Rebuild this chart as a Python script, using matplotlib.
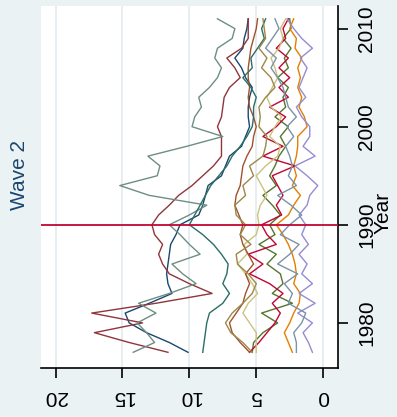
import matplotlib.pyplot as plt

plt.rcParams['font.family'] = ['Liberation Sans', 'DejaVu Sans']

years = list(range(1977, 2012))

navy = [10.1, 11.5, 13.2, 14.5, 14.8, 13.0, 11.3, 11.6, 11.7, 11.6, 11.5, 11.4,
        11.0, 10.7, 9.3, 9.0, 8.8, 8.6, 7.6, 7.3, 7.0, 6.1, 5.8, 5.5, 5.6, 5.6,
        5.5, 5.3, 5.8, 6.1, 6.6, 6.0, 5.9, 5.7, 5.6]
maroon = [11.6, 14.5, 17.1, 13.5, 17.3, 12.5, 8.3, 10.0, 11.5, 12.0, 12.3, 12.0,
          12.6, 12.8, 12.3, 11.5, 10.8, 9.8, 9.0, 8.2, 7.6, 7.6, 7.6, 7.9, 7.6,
          7.5, 7.4, 7.0, 6.2, 6.6, 7.2, 6.1, 5.6, 5.6, 5.6]
forest_green = [5.3, 5.2, 4.5, 3.4, 4.6, 2.3, 3.8, 3.0, 3.2, 4.2, 3.5, 4.8, 3.6,
                4.0, 3.2, 3.8, 4.5, 3.5, 4.0, 3.6, 3.3, 2.8, 3.2, 2.6, 3.6, 2.8,
                3.0, 2.6, 3.4, 2.6, 2.9, 2.4, 3.0, 2.4, 2.5]
dkorange = [2.3, 2.6, 2.9, 2.5, 2.2, 1.8, 1.7, 2.2, 2.0, 2.1, 2.3, 2.6, 3.0, 3.5,
            2.6, 2.2, 1.7, 2.3, 2.0, 2.2, 2.0, 1.9, 1.9, 1.2, 1.4, 1.8, 1.6, 1.9,
            1.7, 1.9, 1.6, 2.1, 2.0, 2.5, 2.2]
teal = [14.2, 12.6, 13.2, 13.9, 12.5, 13.8, 11.5, 9.5, 10.5, 11.3, 9.2, 10.0,
        10.7, 11.5, 10.0, 8.7, 13.0, 15.2, 12.4, 12.2, 13.1, 10.2, 7.5, 9.8, 9.6,
        9.1, 9.3, 8.5, 7.9, 7.6, 8.1, 7.9, 6.8, 6.6, 7.9]
cranberry = [5.5, 4.8, 4.2, 3.6, 3.2, 3.8, 3.0, 4.0, 5.5, 4.5, 5.6, 3.5, 4.2, 4.6,
             3.1, 3.5, 3.0, 3.4, 3.8, 2.1, 4.5, 3.0, 4.5, 3.5, 2.8, 4.0, 2.6, 3.3,
             2.5, 3.3, 2.6, 3.5, 2.8, 3.0, 2.6]
lavender = [0.8, 1.1, 1.5, 0.8, 1.9, 0.6, 1.8, 0.8, 1.6, 1.2, 1.8, 1.1, 1.6, 1.3,
            1.8, 1.2, 1.0, 0.4, 1.2, 2.1, 0.6, 1.5, 1.0, 1.0, 1.6, 2.0, 1.3, 1.8,
            1.5, 1.2, 1.7, 0.8, 1.6, 2.2, 2.7]
khaki = [5.0, 5.0, 5.0, 5.5, 6.0, 5.6, 4.9, 5.3, 5.8, 6.4, 5.7, 5.9, 5.0, 4.8, 4.9,
         4.7, 4.2, 4.6, 5.0, 4.3, 3.4, 3.2, 4.0, 3.6, 3.1, 3.9, 4.2, 3.8, 3.4, 3.6,
         3.9, 3.3, 3.0, 3.2, 2.8]
sienna = [5.5, 6.2, 6.8, 7.0, 6.5, 6.0, 5.8, 5.5, 5.8, 5.2, 5.6, 6.0, 6.2, 6.0,
          6.3, 6.6, 6.5, 6.2, 6.1, 6.0, 5.7, 5.3, 5.2, 5.0, 5.2, 5.5, 5.6, 5.5,
          5.6, 5.6, 5.5, 5.4, 5.2, 5.0, 4.9]
emidblue = [2.0, 2.0, 2.2, 1.6, 1.3, 2.6, 2.3, 2.9, 1.9, 3.4, 2.5, 1.8, 3.2, 2.5,
            1.6, 2.4, 3.4, 2.0, 2.6, 2.3, 2.5, 2.8, 2.2, 2.7, 2.0, 2.6, 2.8, 3.0,
            3.4, 3.9, 3.5, 4.3, 3.8, 3.3, 3.6]
emerald = [9.0, 8.9, 8.8, 8.7, 8.5, 7.5, 7.0, 7.5, 7.2, 7.1, 7.6, 8.2, 9.0, 10.0,
           9.6, 9.2, 8.8, 8.4, 7.8, 7.2, 6.8, 6.2, 5.7, 5.3, 5.2, 5.2, 5.0, 5.4,
           6.0, 5.3, 5.4, 4.9, 4.4, 4.6, 4.3]
brown = [5.3, 6.0, 6.9, 7.3, 6.8, 6.0, 5.3, 5.0, 5.6, 6.4, 6.5, 5.4, 6.2, 5.8,
         6.5, 6.6, 5.8, 6.0, 5.2, 5.5, 4.5, 4.3, 4.2, 4.8, 4.7, 4.8, 4.3, 3.6,
         3.9, 4.6, 4.2, 4.8, 4.3, 4.4, 4.5]

series = [
    (navy, '#1a476f'), (maroon, '#90353b'), (forest_green, '#55752f'),
    (dkorange, '#e37e00'), (teal, '#6e8e84'), (cranberry, '#c10534'),
    (lavender, '#938dd2'), (khaki, '#cac27e'), (sienna, '#a0522d'),
    (emidblue, '#7b92a8'), (emerald, '#2d6d66'), (brown, '#9c8847'),
]

xticks = [0, 5, 10, 15, 20]
yticks = [1980, 1990, 2000, 2010]
mark_year = 1990

fig = plt.figure(figsize=(3.97, 4.17), dpi=100, facecolor='#eaf2f3')
ax = fig.add_axes([0.103, 0.1175, 0.748, 0.868])
ax.set_facecolor('white')

for vals, col in series:
    ax.plot(vals, years, color=col, lw=1.0)

ax.axhline(mark_year, color='#c10534', lw=1.3, zorder=5)

ax.set_xlim(21.1, -1.1)
ax.set_ylim(1975.4, 2012.3)
ax.set_xticks(xticks)
ax.set_yticks(yticks)
ax.xaxis.grid(True, color='#e4edf0', lw=1.3)
ax.set_axisbelow(True)

ax.spines['top'].set_visible(False)
ax.spines['left'].set_visible(False)
ax.spines['right'].set_linewidth(1.2)
ax.spines['bottom'].set_linewidth(1.2)
ax.yaxis.tick_right()
ax.tick_params(axis='x', length=7, width=1.2, pad=7, labelsize=15,
               labelrotation=180)
ax.tick_params(axis='y', length=7, width=1.2, pad=7, labelsize=15,
               labelrotation=90)
for lab in ax.get_yticklabels():
    lab.set_va('center')

fig.text(0.05, 0.58, 'Wave 2', rotation=90, ha='center', va='center',
         fontsize=15, color='#1a476f')
fig.text(0.965, 0.49, 'Year', rotation=90, ha='center', va='center',
         fontsize=15, color='black')

fig.savefig('out.png', dpi=100, facecolor=fig.get_facecolor())
